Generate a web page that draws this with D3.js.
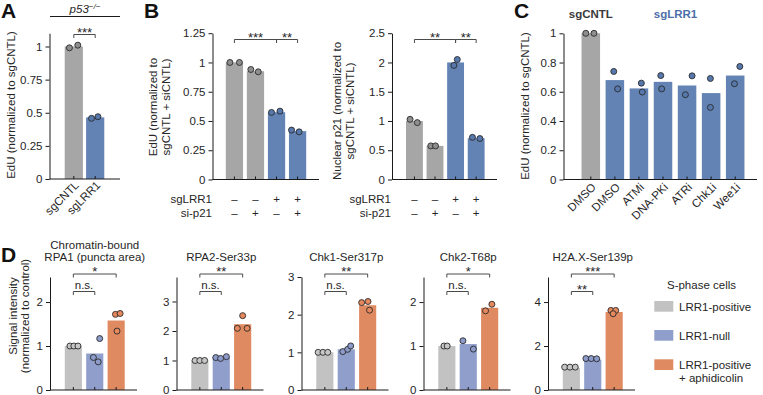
<!DOCTYPE html>
<html>
<head>
<meta charset="utf-8">
<script src="https://cdn.jsdelivr.net/npm/d3@7"></script>
<style>
  body { margin: 0; background: #fff; }
  svg { font-family: "Liberation Sans", Arial, sans-serif; font-size: 11.5px; }
  text { fill: #262626; }
</style>
</head>
<body>
<svg id="fig" width="763" height="395"></svg>
<script>
// ---- panel A ----
const aLabels = ["sgCNTL", "sgLRR1"];
const aMeans = [1.0, 0.465];
const aDots = [[0.99, 1.01], [0.458, 0.47]];
const aJit = [[-0.24, 0.22], [-0.2, 0.15]];
const aTicks = [0, 0.25, 0.5, 0.75, 1];

// ---- panel B ----
const bSgLRR1 = ["–", "–", "+", "+"];
const bSiP21 = ["–", "+", "–", "+"];
const bEduMeans = [1.0, 0.925, 0.575, 0.413];
const bEduDots = [[1.0, 1.0], [0.94, 0.92], [0.573, 0.584], [0.422, 0.407]];
const bEduJit = [[-0.26, 0.29], [-0.27, 0.16], [-0.29, 0.2], [-0.35, 0.09]];
const bEduTicks = [0, 0.25, 0.5, 0.75, 1, 1.25];
const bP21Means = [1.0, 0.574, 2.0, 0.705];
const bP21Dots = [[1.028, 0.972], [0.574, 0.574], [1.95, 2.05], [0.72, 0.70]];
const bP21Jit = [[-0.26, 0.17], [-0.25, 0.03], [-0.1, 0.1], [-0.22, 0.22]];
const bP21Ticks = [0, 0.5, 1, 1.5, 2, 2.5];

// ---- panel C ----
const cLabels = ["DMSO", "DMSO", "ATMi", "DNA-PKi", "ATRi", "Chk1i", "Wee1i"];
const cGroup = ["sgCNTL", "sgLRR1", "sgLRR1", "sgLRR1", "sgLRR1", "sgLRR1", "sgLRR1"];
const cMeans = [1.0, 0.68, 0.623, 0.668, 0.643, 0.591, 0.711];
const cDots = [[1, 1], [0.739, 0.62], [0.659, 0.598], [0.711, 0.62], [0.58, 0.709], [0.691, 0.493], [0.655, 0.773]];
const cJit = [[-0.27, 0.17], [-0.06, 0.15], [0.13, 0.18], [-0.12, -0.07], [-0.09, 0.27], [-0.04, -0.04], [-0.04, 0.25]];
const cTicks = [0, 0.2, 0.4, 0.6, 0.8, 1];

// ---- panel D ----
const dTitles = [["Chromatin-bound", "RPA1 (puncta area)"], ["RPA2-Ser33p"], ["Chk1-Ser317p"], ["Chk2-T68p"], ["H2A.X-Ser139p"]];
const dConds = [["LRR1-positive"], ["LRR1-null"], ["LRR1-positive", "+ aphidicolin"]];
const dMeans = [[1.0, 0.83, 1.58], [1.0, 1.11, 2.23], [1.0, 1.08, 2.25], [1.0, 1.045, 1.87], [1.0, 1.38, 3.55]];
const dDots = [
  [[1, 1, 1], [1.17, 0.74, 0.64], [1.72, 1.74, 1.34]],
  [[1, 1, 1], [1.1, 1.07, 1.13], [2.52, 2.09, 2.09]],
  [[1, 1, 1], [1.02, 1.08, 1.17], [2.32, 2.35, 2.12]],
  [[1, 1], [1.12, 0.93], [1.80, 1.95]],
  [[1.04, 1.04, 1.04], [1.43, 1.43, 1.42], [3.62, 3.62, 3.47]]
];
const dJit = [
  [[-0.2, 0.03, 0.27], [0.29, -0.08, 0.2], [-0.04, 0.23, 0.05]],
  [[-0.28, 0, 0.28], [-0.32, -0.04, 0.3], [0, -0.31, 0.26]],
  [[-0.39, -0.11, 0.17], [-0.2, 0.08, 0.26], [-0.35, 0.02, 0.11]],
  [[-0.17, 0.02], [-0.31, 0.3], [-0.24, 0.13]],
  [[-0.39, -0.08, 0.23], [-0.4, -0.09, 0.23], [-0.19, 0.09, -0.06]]
];
const dMax = [2.57, 3.83, 3.0, 2.57, 5.14];
const dTicks = [[0, 1, 2], [0, 1, 2, 3], [0, 1, 2, 3], [0, 1, 2], [0, 2, 4]];
const dSig = [["*", "n.s."], ["**", "n.s."], ["**", "n.s."], ["*", "n.s."], ["***", "**"]];

const GRAY = "#a6a6a6", BLUE = "#6383b4", GRAY_DOT = "#8e8e8e", BLUE_DOT = "#5678ad";
const dBar = ["#c2c2c2", "#8f9ecb", "#e08a62"];
const dDot = ["#c6c6c6", "#8d9bcb", "#e5885d"];

const svg = d3.select("#fig");

function panel(o) {
  const g = svg.append("g");
  const x = d3.scaleBand().domain(d3.range(o.means.length)).range(o.band).padding(o.pad);
  const y = d3.scaleLinear().domain([0, o.max]).range([o.y0, o.y1]);

  g.selectAll("rect").data(o.means).join("rect")
    .attr("x", (d, i) => x(i)).attr("y", d => y(d))
    .attr("width", x.bandwidth()).attr("height", d => y(0) - y(d))
    .attr("fill", (d, i) => o.colors[i]);

  const ya = g.append("g").attr("transform", `translate(${o.ax},0)`)
    .call(d3.axisLeft(y).tickValues(o.ticks).tickSize(4).tickSizeOuter(0).tickFormat(d => d));
  const xa = g.append("g").attr("transform", `translate(0,${o.y0})`)
    .call(d3.axisBottom(x).tickSize(-3).tickSizeOuter(0).tickFormat(""));
  xa.select(".domain").attr("d", `M${o.ax},0H${o.axEnd}`);
  [ya, xa].forEach(a => a.attr("font-size", null).attr("font-family", null).style("color", "#1a1a1a"));
  ya.selectAll("text").style("fill", "#262626");

  const pts = o.dots.flatMap((arr, i) => arr.map((v, j) => ({ i, v, j: o.jit[i][j] })));
  g.selectAll("circle").data(pts).join("circle")
    .attr("cx", p => x(p.i) + x.bandwidth() * (0.5 + p.j))
    .attr("cy", p => y(p.v)).attr("r", 3)
    .attr("fill", p => o.dotColors[p.i])
    .attr("stroke", "#2a2a2a").attr("stroke-width", 0.9);
  return { g, x, y };
}

function bracket(g, xa, xb, y, label) {
  g.append("path").attr("d", `M${xa},${y + 3.5}V${y}H${xb}V${y + 3.5}`)
    .attr("fill", "none").attr("stroke", "#4a4a4a").attr("stroke-width", 1);
  const star = label.indexOf("*") >= 0;
  g.append("text").attr("x", (xa + xb) / 2).attr("y", star ? y + 2 : y - 2.5)
    .attr("text-anchor", "middle").style("font-size", star ? "13px" : "11.5px").text(label);
}

function letter(t, x, y) {
  svg.append("text").attr("x", x).attr("y", y).style("font-weight", "bold")
    .style("font-size", "21px").style("fill", "#111").text(t);
}

function yLabel(lines, cx, cy) {
  const t = svg.append("text").attr("transform", `translate(${cx},${cy}) rotate(-90)`)
    .attr("text-anchor", "middle");
  const n = lines.length;
  lines.forEach((s, k) => t.append("tspan").attr("x", 0)
    .attr("y", (k - (n - 1) / 2) * 12.5).attr("dy", "0.35em").text(s));
}

const mid = (x, i) => x(i) + x.bandwidth() / 2;

// ===== A =====
letter("A", 1, 17.5);
const A = panel({ means: aMeans, dots: aDots, jit: aJit, band: [61.5, 107.5], pad: 0.15,
  max: 1.1, y0: 179, y1: 33.25, ax: 49.5, axEnd: 120, ticks: aTicks,
  colors: [GRAY, BLUE], dotColors: [GRAY_DOT, BLUE_DOT] });
yLabel(["EdU (normalized to sgCNTL)"], 10.5, 105);
const p53 = svg.append("text").attr("x", 85).attr("y", 12.5).attr("text-anchor", "middle").style("font-style", "italic");
p53.append("tspan").text("p53");
p53.append("tspan").attr("dy", -4).style("font-size", "8px").text("−/−");
svg.append("line").attr("x1", 50).attr("x2", 120).attr("y1", 16.5).attr("y2", 16.5).attr("stroke", "#1a1a1a");
bracket(A.g, mid(A.x, 0), mid(A.x, 1), 34.5, "***");
aLabels.forEach((s, i) => svg.append("text")
  .attr("transform", `translate(${mid(A.x, i) + 3},${183}) rotate(-45)`)
  .attr("text-anchor", "end").attr("dy", "0.35em").text(s));

// ===== B =====
letter("B", 144, 17.5);
const B1 = panel({ means: bEduMeans, dots: bEduDots, jit: bEduJit, band: [222, 310], pad: 0.18,
  max: 1.25, y0: 179.5, y1: 33.2, ax: 212.5, axEnd: 319, ticks: bEduTicks,
  colors: [GRAY, GRAY, BLUE, BLUE], dotColors: [GRAY_DOT, GRAY_DOT, BLUE_DOT, BLUE_DOT] });
yLabel(["EdU (normalized to", "sgCNTL + siCNTL)"], 159.5, 107);
bracket(B1.g, mid(B1.x, 0), mid(B1.x, 2), 39.5, "***");
bracket(B1.g, mid(B1.x, 2), mid(B1.x, 3), 39.5, "**");

const B2 = panel({ means: bP21Means, dots: bP21Dots, jit: bP21Jit, band: [402.3, 488.3], pad: 0.18,
  max: 2.5, y0: 179.5, y1: 33.2, ax: 392, axEnd: 497, ticks: bP21Ticks,
  colors: [GRAY, GRAY, BLUE, BLUE], dotColors: [GRAY_DOT, GRAY_DOT, BLUE_DOT, BLUE_DOT] });
yLabel(["Nuclear p21 (normalized to", "sgCNTL + siCNTL)"], 343.5, 111);
bracket(B2.g, mid(B2.x, 0), mid(B2.x, 2), 39.5, "**");
bracket(B2.g, mid(B2.x, 2), mid(B2.x, 3), 39.5, "**");

[[B1, 212], [B2, 391]].forEach(([P, rx]) => {
  [["sgLRR1", bSgLRR1, 202.5], ["si-p21", bSiP21, 217]].forEach(([name, marks, yy]) => {
    svg.append("text").attr("x", rx).attr("y", yy).attr("text-anchor", "end").text(name);
    marks.forEach((m, i) => svg.append("text").attr("x", mid(P.x, i)).attr("y", yy)
      .attr("text-anchor", "middle").text(m));
  });
});

// ===== C =====
letter("C", 514, 18);
const C = panel({ means: cMeans, dots: cDots, jit: cJit, band: [576, 750], pad: 0.23,
  max: 1, y0: 179.5, y1: 33.3, ax: 563.5, axEnd: 757, ticks: cTicks,
  colors: cGroup.map(g => g === "sgCNTL" ? GRAY : BLUE),
  dotColors: cGroup.map(g => g === "sgCNTL" ? GRAY_DOT : BLUE_DOT) });
yLabel(["EdU (normalized to sgCNTL)"], 525, 106);
cLabels.forEach((s, i) => svg.append("text")
  .attr("transform", `translate(${mid(C.x, i) + 3},${185}) rotate(-45)`)
  .attr("text-anchor", "end").attr("dy", "0.35em").text(s));
["sgCNTL", "sgLRR1"].forEach(name => {
  const idx = cGroup.map((g, i) => g === name ? i : -1).filter(i => i >= 0);
  const cx = name === "sgCNTL" ? mid(C.x, idx[0]) : 675.5;
  svg.append("text").attr("x", cx).attr("y", 17.5).attr("text-anchor", "middle")
    .style("font-weight", "bold").style("fill", name === "sgCNTL" ? "#3a3a3a" : "#4c6ea8").text(name);
});

// ===== D =====
letter("D", 1, 262);
const dAxisX = [50, 176.5, 301.5, 423.5, 548];
dAxisX.forEach((ax, k) => {
  const P = panel({ means: dMeans[k], dots: dDots[k], jit: dJit[k], band: [ax + 10.5, ax + 79], pad: 0.2,
    max: dMax[k], y0: 390, y1: 277, ax: ax, axEnd: ax + 87, ticks: dTicks[k],
    colors: dBar, dotColors: dDot });
  const cx = mid(P.x, 1);
  const tt = svg.append("text").attr("text-anchor", "middle");
  const lines = dTitles[k];
  lines.forEach((s, j) => tt.append("tspan").attr("x", cx)
    .attr("y", 261 - (lines.length - 1 - j) * 12).text(s));
  bracket(P.g, mid(P.x, 0), mid(P.x, 2), 274, dSig[k][0]);
  bracket(P.g, mid(P.x, 0), mid(P.x, 1), 291.5, dSig[k][1]);
});
yLabel(["Signal intensity", "(normalized to control)"], 19, 316);

// legend
svg.append("text").attr("x", 701.5).attr("y", 289).attr("text-anchor", "middle").text("S-phase cells");
const legY = [301, 330, 359.3];
dConds.forEach((lines, i) => {
  svg.append("rect").attr("x", 654.3).attr("y", legY[i]).attr("width", 19).attr("height", 10.7).attr("fill", dBar[i]);
  lines.forEach((s, j) => svg.append("text").attr("x", 679).attr("y", legY[i] + 9.7 + j * 13.3).text(s));
});
</script>
</body>
</html>
